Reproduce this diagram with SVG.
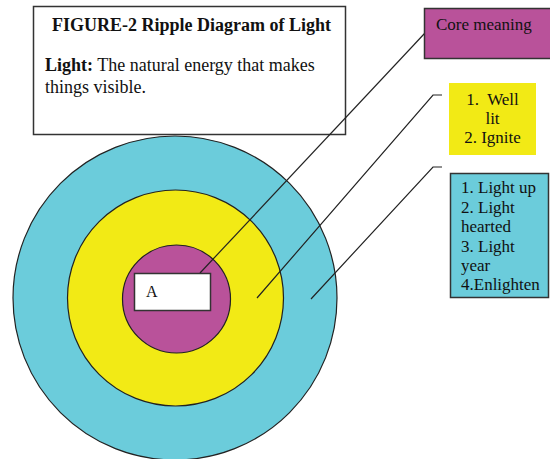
<svg xmlns="http://www.w3.org/2000/svg" width="550" height="459" viewBox="0 0 550 459">
<style>
.t{font-family:"Liberation Serif","Times New Roman",serif;fill:#111;}
.s{font-size:17px;}
.ring{stroke:#222;stroke-width:1.2;}
.box{stroke:#333;stroke-width:1.5;}
.ln{fill:none;stroke:#222;stroke-width:1.2;}
</style>
<rect width="550" height="459" fill="#fff"/>
<g id="title">
<rect class="box" x="33.5" y="6.5" width="312" height="128" fill="#fff" stroke="#555"/>
<text class="t" x="52" y="31" font-size="18" font-weight="bold">FIGURE-2 Ripple Diagram of Light</text>
<text class="t" x="45" y="71" font-size="18"><tspan font-weight="bold">Light:</tspan> The natural energy that makes</text>
<text class="t" x="45" y="93" font-size="18">things visible.</text>
</g>
<g id="outer">
<circle class="ring" cx="175" cy="298" r="162" fill="#6BCCDB"/>
</g>
<g id="middle">
<circle class="ring" cx="175.5" cy="298" r="108" fill="#F2EA15"/>
</g>
<g id="core">
<circle class="ring" cx="176.5" cy="299" r="54" fill="#B9529A"/>
</g>
<g id="connectors">
<polyline class="ln" points="200,273 425,33"/>
<polyline class="ln" points="257,298 433,95 442,95"/>
<polyline class="ln" points="311,299 433,167 442,167"/>
</g>
<g id="boxA">
<rect class="box" x="134.5" y="273.5" width="76" height="37" fill="#fff"/>
<text class="t" x="146" y="297" font-size="16">A</text>
</g>
<g id="coreMeaning">
<rect class="box" x="424.5" y="8.5" width="130" height="50" fill="#B9529A"/>
<text class="t s" x="436" y="30">Core meaning</text>
</g>
<g id="yellowBox">
<rect x="449" y="83" width="87" height="72" fill="#F2EA15"/>
<text class="t s" x="492.5" y="105" text-anchor="middle" xml:space="preserve">1.  Well</text>
<text class="t s" x="492.5" y="124" text-anchor="middle">lit</text>
<text class="t s" x="492.5" y="143" text-anchor="middle">2. Ignite</text>
</g>
<g id="tealBox">
<rect class="box" x="450.5" y="173.5" width="98" height="124" fill="#6BCCDB"/>
<text class="t s" x="461" y="193">1. Light up</text>
<text class="t s" x="461" y="212.5">2. Light</text>
<text class="t s" x="461" y="232">hearted</text>
<text class="t s" x="461" y="251.5">3. Light</text>
<text class="t s" x="461" y="271">year</text>
<text class="t s" x="461" y="290">4.Enlighten</text>
</g>
</svg>
